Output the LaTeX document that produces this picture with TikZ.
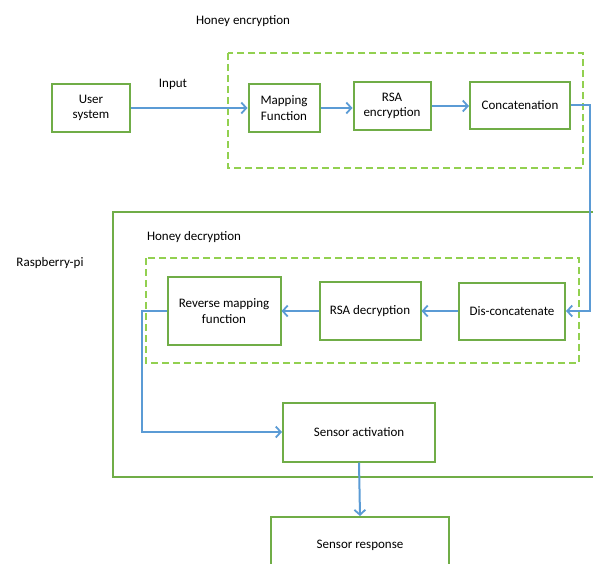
\documentclass[tikz,border=0pt]{standalone}
\usepackage{fontspec}
\setmainfont{Carlito}
\usetikzlibrary{arrows.meta}
\definecolor{gbox}{RGB}{112,173,71}
\definecolor{gdash}{RGB}{146,208,80}
\definecolor{bline}{RGB}{91,155,213}
\begin{document}
\begin{tikzpicture}[x=1pt,y=-1pt,
  box/.style={draw=gbox, line width=2pt, fill=white, align=center, inner sep=0pt, font=\fontsize{13}{15.5}\selectfont},
  lbl/.style={inner sep=0pt, font=\fontsize{13}{15.5}\selectfont},
  frame/.style={draw=gdash, line width=1.6pt, dash pattern=on 7pt off 4pt},
  outer/.style={draw=gbox, line width=2pt},
  arr/.style={draw=bline, line width=2pt, -{Straight Barb[length=5pt,width=11pt,line width=1.8pt]}}]
\useasboundingbox (0,0) rectangle (593,563);
% frames
\draw[frame] (228,53) rectangle (583,168);
\draw[frame] (146,258) rectangle (579,363);
\draw[outer] (594,212) -- (113,212) -- (113,477) -- (594,477);
% labels
\node[lbl] (henc) at (243,21) {Honey encryption};
\node[lbl] (inp) at (173,84) {Input};
\node[lbl] (rpi) at (50,263) {Raspberry-pi};
\node[lbl] (hdec) at (194,237) {Honey decryption};
% boxes
\node[box, minimum width=78pt, minimum height=48pt] (user) at (91,108) {User\\system};
\node[box, minimum width=71pt, minimum height=48pt] (map) at (284,108) {Mapping\\Function};
\node[box, minimum width=77pt, minimum height=48pt] (rsae) at (392,106) {RSA\\encryption};
\node[box, minimum width=100pt, minimum height=47pt] (concat) at (520,105) {Concatenation};
\node[box, minimum width=113pt, minimum height=68pt] (rev) at (224,311) {Reverse mapping\\function};
\node[box, minimum width=101pt, minimum height=58pt] (rsad) at (370,311) {RSA decryption};
\node[box, minimum width=106pt, minimum height=57pt] (dis) at (512,311) {Dis-concatenate};
\node[box, minimum width=152pt, minimum height=59pt] (sact) at (359,432) {Sensor activation};
\node[box, minimum width=178pt, minimum height=56pt] (sresp) at (360,545) {Sensor response};
% coordinates
\coordinate (rc) at (590,200);
\coordinate (lc) at (142,380);
% connectors
\draw[arr] (user.east) -- (map.west |- user.east);
\draw[arr] (map.east) -- (rsae.west |- map.east);
\draw[arr] (rsae.east) -- (concat.west |- rsae.east);
\draw[arr] (concat.east) -| (rc) |- (dis.east);
\draw[arr] (dis.west) -- (rsad.east |- dis.west);
\draw[arr] (rsad.west) -- (rev.east |- rsad.west);
\draw[arr] (rev.west) -| (lc) |- (sact.west);
\draw[arr] (sact.south) -- (sresp.north);
\end{tikzpicture}
\end{document}
